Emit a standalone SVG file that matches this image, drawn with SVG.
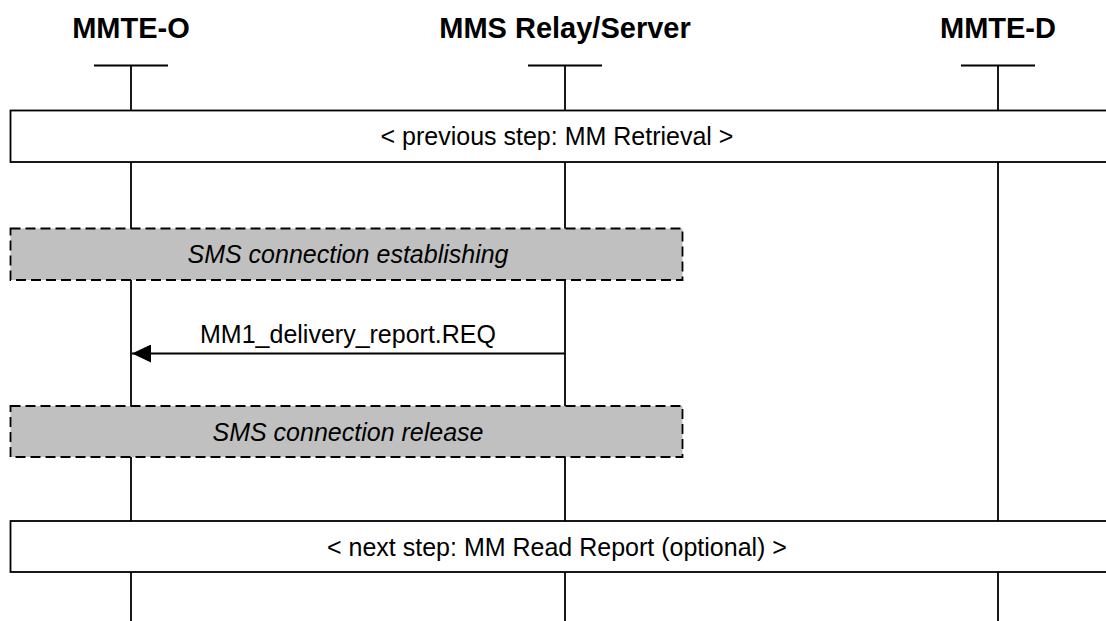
<svg xmlns="http://www.w3.org/2000/svg" width="1106" height="621" viewBox="0 0 1106 621">
<style>
.hdr{font-family:"Liberation Sans",Arial,sans-serif;font-weight:bold;font-size:29px;fill:#000;text-anchor:middle}
.lbl{font-family:"Liberation Sans",Arial,sans-serif;font-size:25px;fill:#000;text-anchor:middle}
.it{font-style:italic}
.ln{stroke:#000;stroke-width:1.8;fill:none}
.step{fill:#fff;stroke:#000;stroke-width:1.8}
.sms{fill:#c0c0c0;stroke:#000;stroke-width:1.8;stroke-dasharray:10 5}
</style>
<defs>
<marker id="ah" markerWidth="20" markerHeight="18" refX="19" refY="9" orient="auto" markerUnits="userSpaceOnUse">
<path d="M0,0 L19,9 L0,18 Z" fill="#000"/>
</marker>
</defs>
<rect width="1106" height="621" fill="#fff"/>
<g id="mmte-o">
<text class="hdr" x="131" y="38">MMTE-O</text>
<line class="ln" x1="94" y1="65.5" x2="168" y2="65.5"/>
<line class="ln" x1="131" y1="65.5" x2="131" y2="621"/>
</g>
<g id="mms-relay">
<text class="hdr" x="565" y="38">MMS Relay/Server</text>
<line class="ln" x1="528" y1="65.5" x2="602" y2="65.5"/>
<line class="ln" x1="565" y1="65.5" x2="565" y2="621"/>
</g>
<g id="mmte-d">
<text class="hdr" x="998" y="38">MMTE-D</text>
<line class="ln" x1="961" y1="65.5" x2="1035" y2="65.5"/>
<line class="ln" x1="998" y1="65.5" x2="998" y2="621"/>
</g>
<g id="prev-step">
<rect class="step" x="10.5" y="110.5" width="1100" height="51.5"/>
<text class="lbl" x="557" y="145">&lt; previous step: MM Retrieval &gt;</text>
</g>
<g id="sms-establish">
<rect class="sms" x="10.5" y="228.5" width="672" height="51.5"/>
<text class="lbl it" x="348" y="263">SMS connection establishing</text>
</g>
<g id="sms-release">
<rect class="sms" x="10.5" y="406" width="672" height="51"/>
<text class="lbl it" x="348" y="441">SMS connection release</text>
</g>
<g id="next-step">
<rect class="step" x="10.5" y="521" width="1100" height="51"/>
<text class="lbl" x="557" y="556">&lt; next step: MM Read Report (optional) &gt;</text>
</g>
<g id="connectors">
<line class="ln" x1="565" y1="353.5" x2="132" y2="353.5" marker-end="url(#ah)"/>
<text class="lbl" x="348" y="343">MM1_delivery_report.REQ</text>
</g>
</svg>
